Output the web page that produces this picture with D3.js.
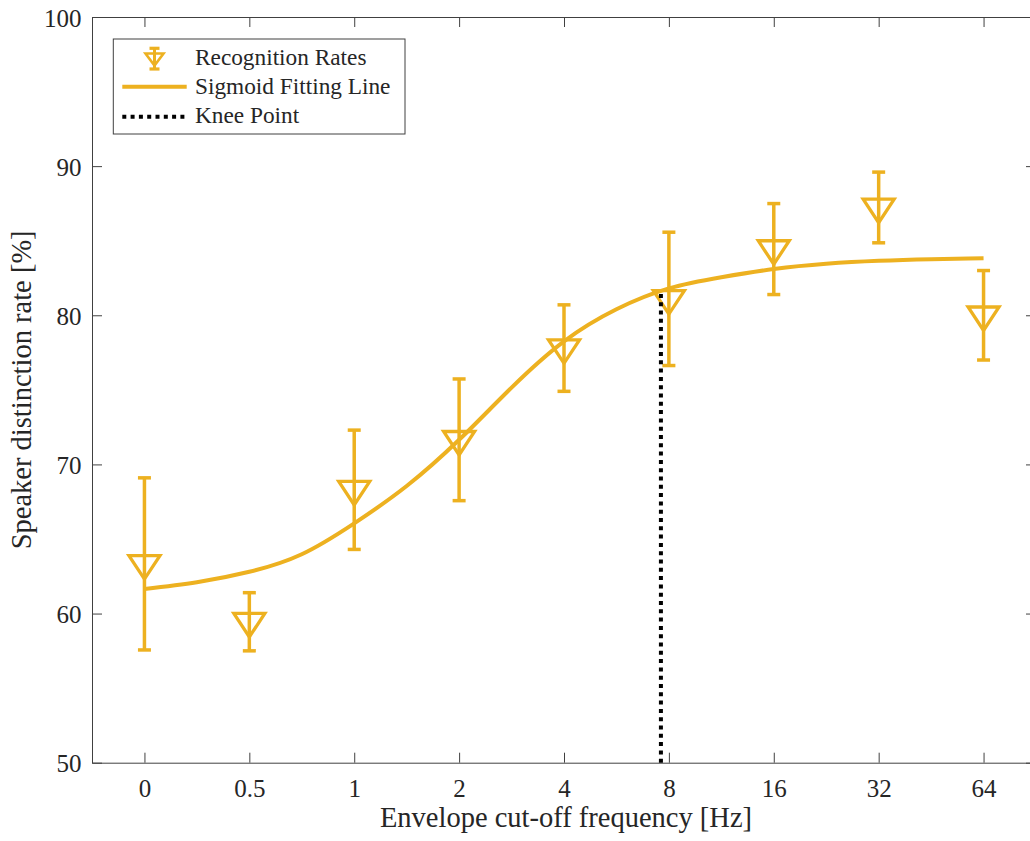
<!DOCTYPE html>
<html>
  <head>
    <meta charset="utf-8">
    <title>Speaker distinction rate</title>
    <style>
      body { margin: 0; background: #fff; }
      svg { display: block; font-family: "Liberation Serif", "Times New Roman", serif; }
      .axis text { fill: #262626; font-size: 25px; font-family: "Liberation Serif", "Times New Roman", serif; }
      .axis line, .axis path { stroke: #404040; stroke-width: 1; }
    </style>
  </head>
  <body>
    <div id="chart"></div>
    <script src="https://d3js.org/d3.v7.min.js"></script>
    <script>
    // category labels on the x axis (evenly spaced)
    var categories = ["0", "0.5", "1", "2", "4", "8", "16", "32", "64"]
    // recognition rates and their error half-widths
    var means = [63.33, 59.45, 68.3, 71.65, 77.8, 81.1, 84.44, 87.23, 80.0]
    var errs = [5.77, 1.95, 4.0, 4.08, 2.9, 4.47, 3.05, 2.37, 3.0]
    // sigmoid fitting line (x is the category index)
    var fitX = [0, 0.5, 1, 1.5, 2, 2.5, 3, 3.5, 4, 4.5, 5, 5.5, 6, 6.5, 7, 7.5, 8]
    var fitY = [61.65, 62.1, 62.8, 63.98, 66.05, 68.55, 71.65, 75.15, 78.25, 80.4, 81.8, 82.55, 83.1, 83.45, 83.65, 83.76, 83.83]
    // knee point
    var kneeX = 4.924,
        kneeY = 81.6
    var yTicks = [50, 60, 70, 80, 90, 100]

    // note: "top" is taken by window.top, so plot edges get their own names
    var width = 1030,
        height = 841,
        plotL = 92, plotR = 1036, plotT = 17, plotB = 762.7,
        orange = '#EDB120'

    var svg = d3.select('#chart')
      .append('svg')
      .attr('width', width)
      .attr('height', height)

    var x = d3.scaleLinear().domain([-0.5, 8.5]).range([plotL, plotR])
    var y = d3.scaleLinear().domain([50, 100]).range([plotB, plotT])

    // axes, ticks pointing inward (box style)
    var xBottom = d3.axisBottom(x).tickValues(d3.range(categories.length))
      .tickFormat(function(i) { return categories[i] }).tickSizeInner(-10).tickSizeOuter(0)
    var gx = svg.append('g').attr('class', 'axis').attr('transform', 'translate(0,' + plotB + ')').call(xBottom)
    gx.selectAll('text').attr('y', 34).attr('dy', 0)

    var xTop = d3.axisTop(x).tickValues(d3.range(categories.length)).tickFormat('').tickSizeInner(-10).tickSizeOuter(0)
    svg.append('g').attr('class', 'axis').attr('transform', 'translate(0,' + plotT + ')').call(xTop)

    var yLeft = d3.axisLeft(y).tickValues(yTicks).tickSizeInner(-10).tickSizeOuter(0)
    var gy = svg.append('g').attr('class', 'axis').attr('transform', 'translate(' + plotL + ',0)').call(yLeft)
    gy.selectAll('text').attr('x', -10.5).attr('dy', '0.36em')

    var yRight = d3.axisRight(y).tickValues(yTicks).tickFormat('').tickSizeInner(-10).tickSizeOuter(0)
    svg.append('g').attr('class', 'axis').attr('transform', 'translate(' + plotR + ',0)').call(yRight)

    // axis titles
    svg.append('text')
      .attr('x', (plotL + plotR) / 2 + 2).attr('y', 826.7)
      .attr('text-anchor', 'middle')
      .style('font-size', '28.5px').style('fill', '#262626')
      .text('Envelope cut-off frequency [Hz]')

    svg.append('text')
      .attr('transform', 'translate(31,' + (plotT + plotB) / 2 + ') rotate(-90)')
      .attr('text-anchor', 'middle')
      .style('font-size', '28.5px').style('fill', '#262626')
      .text('Speaker distinction rate [%]')

    // sigmoid line
    var line = d3.line()
      .x(function(d) { return x(d[0]) })
      .y(function(d) { return y(d[1]) })
      .curve(d3.curveNatural)

    svg.append('path')
      .datum(d3.zip(fitX, fitY))
      .attr('d', line)
      .attr('fill', 'none')
      .attr('stroke', orange)
      .attr('stroke-width', 4)

    // error bars + down triangles
    var tri = 'M-15.5,-8.3L15.5,-8.3L0,15.2Z'
    var pts = svg.append('g').selectAll('g')
      .data(means)
      .enter().append('g')
      .attr('transform', function(d, i) { return 'translate(' + x(i) + ',0)' })

    pts.append('line')
      .attr('y1', function(d, i) { return y(d + errs[i]) })
      .attr('y2', function(d, i) { return y(d - errs[i]) })
      .attr('stroke', orange).attr('stroke-width', 3.5)
    pts.append('line')
      .attr('x1', -6.5).attr('x2', 6.5)
      .attr('y1', function(d, i) { return y(d + errs[i]) })
      .attr('y2', function(d, i) { return y(d + errs[i]) })
      .attr('stroke', orange).attr('stroke-width', 3.5)
    pts.append('line')
      .attr('x1', -6.5).attr('x2', 6.5)
      .attr('y1', function(d, i) { return y(d - errs[i]) })
      .attr('y2', function(d, i) { return y(d - errs[i]) })
      .attr('stroke', orange).attr('stroke-width', 3.5)
    pts.append('path')
      .attr('d', tri)
      .attr('transform', function(d) { return 'translate(0,' + y(d) + ')' })
      .attr('fill', 'none').attr('stroke', orange).attr('stroke-width', 3.3)
      .attr('stroke-linejoin', 'miter')

    // knee point
    svg.append('line')
      .attr('x1', x(kneeX)).attr('x2', x(kneeX))
      .attr('y1', y(50)).attr('y2', y(kneeY))
      .attr('stroke', '#000').attr('stroke-width', 4)
      .attr('stroke-dasharray', '4,4.3')

    // legend
    var lg = svg.append('g')
    lg.append('rect')
      .attr('x', 113.3).attr('y', 39).attr('width', 291.7).attr('height', 95)
      .attr('fill', '#fff').attr('stroke', '#404040').attr('stroke-width', 1)

    var icon = lg.append('g').attr('transform', 'translate(154.5,0)')
    icon.append('line').attr('y1', 48.3).attr('y2', 69).attr('stroke', orange).attr('stroke-width', 3)
    icon.append('line').attr('x1', -5).attr('x2', 5).attr('y1', 48.3).attr('y2', 48.3).attr('stroke', orange).attr('stroke-width', 3.2)
    icon.append('line').attr('x1', -5).attr('x2', 5).attr('y1', 69).attr('y2', 69).attr('stroke', orange).attr('stroke-width', 3.2)
    icon.append('path').attr('d', 'M-9,53.5L9,53.5L0,65.5Z')
      .attr('fill', 'none').attr('stroke', orange).attr('stroke-width', 2.6)

    lg.append('line').attr('x1', 122.3).attr('x2', 186.7).attr('y1', 86.7).attr('y2', 86.7)
      .attr('stroke', orange).attr('stroke-width', 4)
    lg.append('line').attr('x1', 122.3).attr('x2', 186.7).attr('y1', 116.7).attr('y2', 116.7)
      .attr('stroke', '#000').attr('stroke-width', 4).attr('stroke-dasharray', '4,4.3')

    var legendText = ['Recognition Rates', 'Sigmoid Fitting Line', 'Knee Point']
    lg.selectAll('text.lab')
      .data(legendText)
      .enter().append('text')
      .attr('x', 195)
      .attr('y', function(d, i) { return 65 + i * 29 })
      .style('font-size', '23.3px').style('fill', '#262626')
      .text(function(d) { return d })
    </script>
  </body>
</html>
